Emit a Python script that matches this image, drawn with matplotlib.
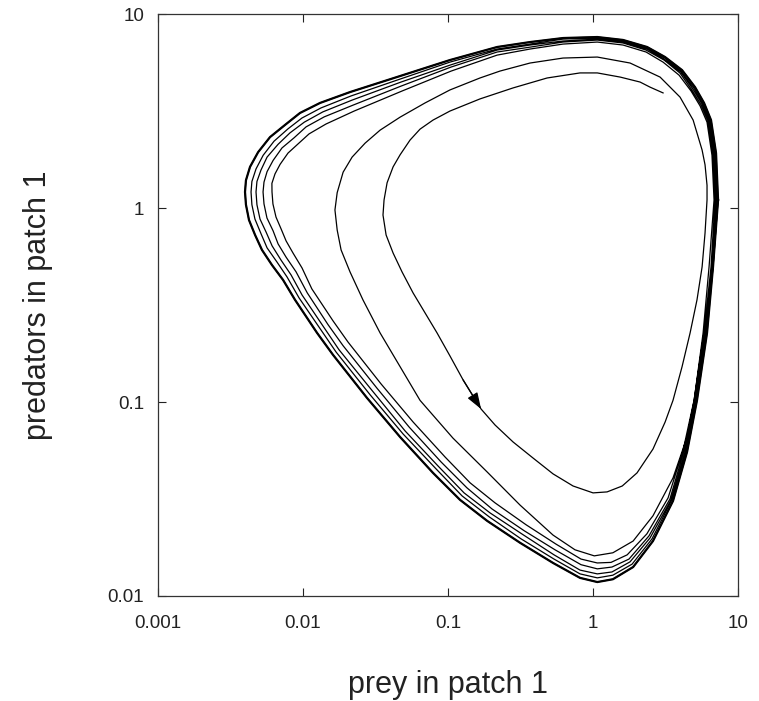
import numpy as np
import matplotlib
matplotlib.use("Agg")
import matplotlib.pyplot as plt
from matplotlib.ticker import NullLocator

plt.rcParams['font.family'] = ['Liberation Sans', 'DejaVu Sans']

# Trajectory, in the order it is traced.
# Loop 1: from the starting point (upper right) round to the right-hand side
loop1_prey = [3.04, 2.47, 2.11, 1.54, 1.07, 0.813, 0.482, 0.281, 0.166, 0.103,
              0.0788, 0.0641, 0.0547, 0.0467, 0.0418, 0.0380, 0.0362, 0.0356, 0.0374, 0.0418,
              0.0482, 0.0574, 0.0694, 0.0840, 0.103, 0.127, 0.169, 0.211, 0.281, 0.386,
              0.530, 0.728, 1.0, 1.25, 1.59, 2.01, 2.59, 3.14, 3.56, 4.11,
              4.67, 5.21, 5.65, 5.92, 6.11]
loop1_pred = [3.92, 4.20, 4.46, 4.73, 4.97, 4.97, 4.68, 4.16, 3.65, 3.16,
              2.84, 2.55, 2.24, 1.88, 1.63, 1.35, 1.10, 0.920, 0.726, 0.586,
              0.468, 0.365, 0.288, 0.227, 0.173, 0.130, 0.0920, 0.0761, 0.0622, 0.0514,
              0.0426, 0.0369, 0.0340, 0.0344, 0.0369, 0.0431, 0.0572, 0.0788, 0.102, 0.152,
              0.227, 0.336, 0.497, 0.743, 1.10]

# Loop 2
loop2_prey = [6.11, 5.92, 5.65, 4.90, 3.98, 2.90, 1.80, 1.07, 0.621, 0.368,
              0.228, 0.166, 0.103, 0.0694, 0.0467, 0.0340, 0.0268, 0.0218, 0.0189, 0.0172,
              0.0166, 0.0172, 0.0183, 0.0211, 0.0259, 0.0340, 0.0467, 0.0641, 0.108, 0.186,
              0.314, 0.530, 0.751, 1.02, 1.37, 1.89, 2.59, 3.56, 4.45, 4.98,
              5.74, 6.31, 6.83]
loop2_pred = [1.31, 1.67, 1.99, 2.84, 3.73, 4.73, 5.59, 6.00, 5.93, 5.59,
              5.08, 4.68, 4.06, 3.48, 2.94, 2.52, 2.16, 1.83, 1.53, 1.20,
              0.977, 0.770, 0.608, 0.468, 0.336, 0.227, 0.152, 0.102, 0.0652, 0.0436,
              0.0294, 0.0206, 0.0173, 0.0161, 0.0167, 0.0192, 0.0259, 0.0406, 0.0660, 0.102,
              0.227, 0.497, 1.10]

# Loops 3-6, closing in on the limit cycle
loop3_prey = [6.83, 6.61, 6.11, 5.47, 4.74, 3.92, 3.04, 2.32, 1.61, 1.07,
              0.621, 0.368, 0.218, 0.105, 0.0482, 0.0225, 0.0144, 0.0110, 0.00923, 0.00788,
              0.00695, 0.00641, 0.00610, 0.00611, 0.00620, 0.00651, 0.00706, 0.00764, 0.00853, 0.00984,
              0.0115, 0.0161, 0.0204, 0.0345, 0.0574, 0.0953, 0.142, 0.211, 0.345, 0.556,
              0.826, 1.07, 1.33, 1.72, 2.35, 3.29, 4.17, 4.97, 5.82, 6.51]
loop3_pred = [1.10, 1.87, 2.77, 3.36, 4.01, 4.84, 5.65, 6.37, 6.92, 7.17,
              7.00, 6.60, 6.14, 5.08, 4.01, 3.16, 2.71, 2.41, 2.14, 1.92,
              1.68, 1.50, 1.34, 1.21, 1.05, 0.898, 0.780, 0.677, 0.586, 0.491,
              0.383, 0.262, 0.204, 0.124, 0.0789, 0.0521, 0.0383, 0.0302, 0.0233, 0.0185,
              0.0155, 0.0148, 0.0149, 0.0163, 0.0209, 0.0320, 0.0560, 0.102, 0.227, 0.497]

loop4_prey = [6.94, 6.72, 6.20, 5.56, 4.81, 3.98, 3.09, 2.32, 1.61, 1.07,
              0.621, 0.368, 0.218, 0.105, 0.0474, 0.0221, 0.0140, 0.0105, 0.00867, 0.00716,
              0.00622, 0.00565, 0.00538, 0.00530, 0.00538, 0.00564, 0.00622, 0.00673, 0.00763, 0.00895,
              0.0107, 0.0149, 0.0189, 0.0323, 0.0539, 0.0895, 0.135, 0.201, 0.335, 0.547,
              0.826, 1.07, 1.35, 1.77, 2.43, 3.39, 4.24, 5.05, 5.92, 6.61]
loop4_pred = [1.10, 1.90, 2.81, 3.40, 4.05, 4.96, 5.79, 6.52, 7.09, 7.34,
              7.17, 6.75, 6.37, 5.33, 4.25, 3.39, 2.95, 2.62, 2.30, 2.04,
              1.76, 1.54, 1.36, 1.21, 1.05, 0.888, 0.762, 0.653, 0.559, 0.469,
              0.365, 0.250, 0.195, 0.118, 0.0743, 0.0491, 0.0361, 0.0281, 0.0217, 0.0173,
              0.0145, 0.0138, 0.0141, 0.0155, 0.0204, 0.0316, 0.0560, 0.102, 0.227, 0.497]

loop5_prey = [7.05, 6.83, 6.31, 5.65, 4.89, 4.04, 3.09, 2.36, 1.61, 1.07,
              0.621, 0.368, 0.218, 0.103, 0.0474, 0.0218, 0.0137, 0.0102, 0.00813, 0.00673,
              0.00565, 0.00513, 0.00481, 0.00474, 0.00481, 0.00505, 0.00556, 0.00612, 0.00705, 0.00827,
              0.00985, 0.0140, 0.0177, 0.0304, 0.0506, 0.0853, 0.129, 0.195, 0.329, 0.538,
              0.813, 1.07, 1.35, 1.80, 2.47, 3.45, 4.31, 5.13, 6.01, 6.61]
loop5_pred = [1.10, 1.90, 2.81, 3.44, 4.10, 5.02, 5.86, 6.60, 7.17, 7.43,
              7.26, 6.92, 6.52, 5.45, 4.46, 3.60, 3.13, 2.77, 2.44, 2.13,
              1.83, 1.57, 1.37, 1.21, 1.04, 0.877, 0.752, 0.638, 0.539, 0.452,
              0.356, 0.241, 0.186, 0.113, 0.0709, 0.0468, 0.0340, 0.0268, 0.0207, 0.0163,
              0.0136, 0.0130, 0.0133, 0.0150, 0.0199, 0.0313, 0.0553, 0.102, 0.227, 0.497]

loop6_prey = [7.16, 6.94, 6.41, 5.74, 4.97, 4.04, 3.14, 2.36, 1.61, 1.07,
              0.621, 0.368, 0.218, 0.103, 0.0467, 0.0214, 0.0133, 0.00983, 0.00788, 0.00631,
              0.00531, 0.00474, 0.00444, 0.00438, 0.00444, 0.00466, 0.00514, 0.00565, 0.00662, 0.00776,
              0.00939, 0.0133, 0.0169, 0.0290, 0.0490, 0.0827, 0.125, 0.192, 0.319, 0.538,
              0.813, 1.07, 1.37, 1.86, 2.55, 3.50, 4.38, 5.13, 6.01, 6.72]
loop6_pred = [1.10, 1.92, 2.84, 3.44, 4.15, 5.08, 5.93, 6.68, 7.26, 7.52,
              7.43, 7.00, 6.60, 5.65, 4.62, 3.78, 3.28, 2.91, 2.56, 2.21,
              1.87, 1.59, 1.37, 1.21, 1.04, 0.877, 0.735, 0.623, 0.526, 0.441,
              0.344, 0.235, 0.181, 0.109, 0.0684, 0.0452, 0.0328, 0.0256, 0.0197, 0.0155,
              0.0130, 0.0124, 0.0128, 0.0146, 0.0197, 0.0313, 0.0553, 0.102, 0.227, 0.497]

# Outermost loop (limit cycle)
cycle_prey = [7.28, 7.05, 6.51, 5.83, 5.05, 4.11, 3.14, 2.36, 1.61, 1.07,
              0.621, 0.368, 0.218, 0.103, 0.0467, 0.0211, 0.0131, 0.00953, 0.00751, 0.00592,
              0.00490, 0.00431, 0.00404, 0.00398, 0.00404, 0.00424, 0.00467, 0.00521, 0.00611, 0.00728,
              0.00881, 0.0125, 0.0161, 0.0276, 0.0467, 0.0788, 0.121, 0.186, 0.314, 0.530,
              0.813, 1.07, 1.37, 1.89, 2.59, 3.56, 4.45, 5.21, 6.11, 6.72, 7.28]
cycle_pred = [1.10, 1.92, 2.84, 3.48, 4.20, 5.14, 6.00, 6.76, 7.35, 7.61,
              7.52, 7.17, 6.76, 5.79, 4.79, 3.96, 3.48, 3.09, 2.68, 2.32,
              1.94, 1.63, 1.39, 1.21, 1.04, 0.867, 0.726, 0.608, 0.508, 0.426,
              0.336, 0.227, 0.175, 0.105, 0.0660, 0.0431, 0.0313, 0.0244, 0.0188, 0.0148,
              0.0124, 0.0118, 0.0122, 0.0141, 0.0192, 0.0309, 0.0553, 0.102, 0.227, 0.497, 1.10]

ARROW_AT = 26  # index in loop 1 where the direction arrow sits

x_ticks = [0.001, 0.01, 0.1, 1, 10]
x_labels = ['0.001', '0.01', '0.1', '1', '10']
y_ticks = [0.01, 0.1, 1, 10]
y_labels = ['0.01', '0.1', '1', '10']

prey = np.concatenate([loop1_prey, loop2_prey, loop3_prey, loop4_prey,
                       loop5_prey, loop6_prey, cycle_prey])
pred = np.concatenate([loop1_pred, loop2_pred, loop3_pred, loop4_pred,
                       loop5_pred, loop6_pred, cycle_pred])

fig = plt.figure(figsize=(7.59, 7.01), dpi=100)
ax = fig.add_axes([0.2082, 0.1498, 0.7642, 0.8302])

ax.plot(prey, pred, color='black', lw=0.9, solid_joinstyle='round')
ax.plot(cycle_prey, cycle_pred, color='black', lw=1.6, solid_joinstyle='round')

# direction arrow on the first loop
ax.annotate('', xy=(loop1_prey[ARROW_AT], loop1_pred[ARROW_AT]),
            xytext=(loop1_prey[ARROW_AT - 1], loop1_pred[ARROW_AT - 1]),
            arrowprops=dict(arrowstyle='-|>,head_length=1.0,head_width=0.35',
                            color='black', lw=0.9, shrinkA=0, shrinkB=0,
                            mutation_scale=10))

ax.set_xscale('log')
ax.set_yscale('log')
ax.set_xlim(0.001, 10)
ax.set_ylim(0.01, 10)
ax.set_xticks(x_ticks)
ax.set_xticklabels(x_labels)
ax.set_yticks(y_ticks)
ax.set_yticklabels(y_labels)
ax.xaxis.set_minor_locator(NullLocator())
ax.yaxis.set_minor_locator(NullLocator())

ax.tick_params(which='major', direction='in', length=6, width=0.8,
               top=True, right=True, labelsize=13.5, colors='#222222')
ax.tick_params(axis='x', pad=14)
ax.tick_params(axis='y', pad=10)
for sp in ax.spines.values():
    sp.set_linewidth(0.9)
    sp.set_color('#333333')

ax.set_xlabel('prey in patch 1', fontsize=22, labelpad=27, color='#222222')
ax.set_ylabel('predators in patch 1', fontsize=22, labelpad=39, color='#222222')

fig.savefig('out.png', dpi=100)
